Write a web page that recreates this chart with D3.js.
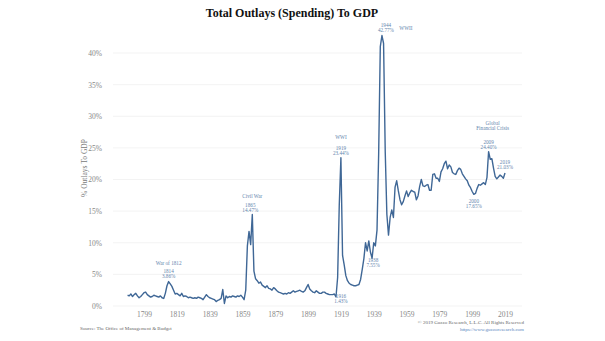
<!DOCTYPE html>
<html><head><meta charset="utf-8">
<script src="https://cdn.jsdelivr.net/npm/d3@7"></script>
<style>body{margin:0;background:#fff}svg{display:block}</style>
</head><body>
<svg id="c" width="605" height="341"></svg>
<script>
const startYear = 1789;
const outlays = [
1.7,1.6,1.9,1.5,1.8,2.0,1.6,1.3,1.5,1.8, // 1789-1798
2.1,2.2,1.8,1.6,1.4,1.5,1.7,1.6,1.5,1.4, // 1799-1808
1.6,1.3,1.2,2.0,3.2,3.86,3.5,3.1,2.5,1.9, // 1809-1818
2.0,1.8,1.6,2.0,1.5,1.6,1.5,1.3,1.4,1.3, // 1819-1828
1.2,1.3,1.2,1.4,1.3,1.2,1.0,1.4,1.8,1.5, // 1829-1838
1.3,1.2,1.1,1.0,0.7,0.9,1.0,1.2,2.6,0.4, // 1839-1848
1.6,1.3,1.5,1.4,1.6,1.5,1.4,1.6,1.5,1.7, // 1849-1858
1.4,1.0,2.5,9.5,11.8,9.7,14.47,5.5,4.3,4.0, // 1859-1868
3.6,3.8,3.3,3.1,2.9,3.2,2.8,2.7,2.5,2.9, // 1869-1878
2.7,2.4,2.2,2.1,2.0,1.9,2.0,1.9,2.1,2.0, // 1879-1888
2.2,2.4,2.2,2.3,2.4,2.5,2.3,2.2,2.4,2.9, // 1889-1898
3.4,2.7,2.4,2.2,2.1,2.4,2.2,2.0,2.0,2.2, // 1899-1908
2.2,2.0,1.9,1.8,1.8,1.8,1.9,1.43,4.5,16.0, // 1909-1918
23.44,8.0,6.5,4.8,4.0,3.6,3.4,3.3,3.2,3.2, // 1919-1928
3.3,3.4,4.2,5.8,7.5,10.0,8.7,10.3,8.5,7.55, // 1929-1938
10.0,9.5,12.0,24.0,41.0,42.77,41.5,24.5,14.5,11.2, // 1939-1948
14.0,15.2,14.0,18.8,19.8,18.2,16.8,16.0,16.5,17.4, // 1949-1958
18.2,17.3,17.9,18.3,18.1,18.0,16.8,17.4,18.9,20.0, // 1959-1968
19.0,18.9,19.1,19.2,18.3,18.3,20.8,20.9,20.2,20.2, // 1969-1978
19.7,21.2,21.7,22.5,22.9,21.7,22.3,22.0,21.1,20.9, // 1979-1988
20.8,21.4,21.8,21.6,20.9,20.5,20.1,19.8,19.1,18.7, // 1989-1998
18.1,17.65,17.8,18.6,19.2,19.1,19.3,19.5,19.2,20.3, // 1999-2008
24.4,23.2,23.3,21.8,20.5,20.1,20.4,20.7,20.5,20.2, // 2009-2018
21.03 // 2019
];
const years = outlays.map((d,i)=>startYear+i);
const xTicks = [1799,1819,1839,1859,1879,1899,1919,1939,1959,1979,1999,2019];
const yTicks = [0,5,10,15,20,25,30,35,40];
const annYears = [1814,1865,1916,1919,1938,1944,2000,2009,2019];
const annTitles = ["War of 1812","Civil War","","WWI","","WWII","","Global|Financial Crisis",""];
const annValues = ["3.86%","14.47%","1.43%","23.44%","7.55%","42.77%","17.65%","24.40%","21.03%"];

const svg = d3.select("#c");
const x = d3.scaleLinear().domain([1799,2019]).range([144,505]);
const y = d3.scaleLinear().domain([0,40]).range([306,53]);
const lserif = "'Liberation Serif','DejaVu Serif',serif";

// title
svg.append("text").attr("x",292).attr("y",17).attr("text-anchor","middle")
  .attr("font-family",lserif).attr("font-weight","bold").attr("font-size",12)
  .attr("fill","#111").text("Total Outlays (Spending) To GDP");

// grid
svg.append("g").selectAll("line").data(yTicks).join("line")
  .attr("x1",113).attr("x2",522).attr("y1",d=>y(d)).attr("y2",d=>y(d))
  .attr("stroke","#f0f0f0").attr("stroke-width",0.8);

// y axis
const yAxis = d3.axisLeft(y).tickValues(yTicks).tickFormat(d=>d+"%").tickSize(0).tickPadding(0);
const gy = svg.append("g").attr("transform","translate(102,0)").call(yAxis);
gy.select(".domain").remove();
gy.selectAll("text").attr("font-family",lserif).attr("font-size",7.5).attr("fill","#888");

// x axis
const xAxis = d3.axisBottom(x).tickValues(xTicks).tickFormat(d3.format("d")).tickSize(0).tickPadding(0);
const gx = svg.append("g").attr("transform","translate(0,312)").call(xAxis);
gx.select(".domain").remove();
gx.selectAll("text").attr("font-family",lserif).attr("font-size",7.5).attr("fill","#888");

// y title
svg.append("text").attr("transform","translate(87,168) rotate(-90)").attr("text-anchor","middle")
  .attr("font-family",lserif).attr("font-size",7.5).attr("fill","#777").text("% Outlays To GDP");

// line
const line = d3.line().x((d,i)=>x(years[i])).y(d=>y(d));
svg.append("path").datum(outlays).attr("d",line).attr("fill","none")
  .attr("stroke","#3f6796").attr("stroke-width",1.4).attr("stroke-linejoin","round");

// annotations relative to the data point
const annColor = "#6485ad";
const annLayout = {
  1814:{dx:0, vy:-4, below:false, tdx:0, ty:-17},
  1865:{dx:-2, vy:-2, below:false, tdx:0, ty:-16},
  1916:{dx:5, vy:1, below:true},
  1919:{dx:0, vy:-3, below:false, tdx:0, ty:-19},
  1938:{dx:1, vy:4, below:true},
  1944:{dx:4, vy:-3, below:false, tdx:24, ty:-5},
  2000:{dx:0, vy:9, below:true},
  2009:{dx:0, vy:-3, below:false, tdx:4, ty:-22},
  2019:{dx:0, vy:-4, below:false}
};
annYears.forEach((yr,i)=>{
  const v = outlays[yr-startYear];
  const L = annLayout[yr];
  const px = x(yr), py = y(v);
  const cx = px+L.dx;
  const g = svg.append("g").attr("font-family",lserif).attr("font-size",5.2).attr("fill",annColor).attr("text-anchor","middle");
  if (L.below) {
    g.append("text").attr("x",cx).attr("y",py+L.vy).text(yr);
    g.append("text").attr("x",cx).attr("y",py+L.vy+5).text(annValues[i]);
  } else {
    g.append("text").attr("x",cx).attr("y",py+L.vy).text(annValues[i]);
    g.append("text").attr("x",cx).attr("y",py+L.vy-5).text(yr);
    const t = annTitles[i];
    if (t) {
      const parts = t.split("|");
      parts.forEach((p,k)=>{
        g.append("text").attr("x",px+L.tdx).attr("y",py+L.ty+(k-(parts.length-1))*5).text(p);
      });
    }
  }
});

// footer
svg.append("text").attr("x",80).attr("y",330).attr("font-family",lserif).attr("font-size",5)
  .attr("fill","#666").text("Source: The Office of Management & Budget");
svg.append("text").attr("x",524).attr("y",324).attr("text-anchor","end").attr("font-family",lserif).attr("font-size",5)
  .attr("fill","#666").text("© 2019 Guzzo Research, L.L.C. All Rights Reserved");
svg.append("text").attr("x",524).attr("y",331).attr("text-anchor","end").attr("font-family",lserif).attr("font-size",5)
  .attr("fill","#5a86c0").text("https://www.guzzoresearch.com");
</script>
</body></html>
